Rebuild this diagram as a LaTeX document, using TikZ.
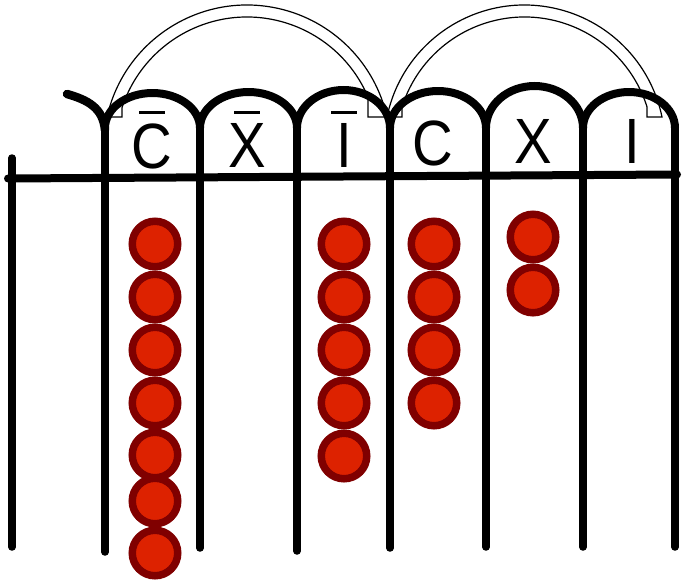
\documentclass[tikz,border=0pt]{standalone}
\usepackage{fontspec}
\usepackage{graphicx}
\setmainfont{Liberation Sans}
\definecolor{beadrim}{HTML}{800000}
\definecolor{beadfill}{HTML}{DD2200}
\newcommand\nar[1]{\scalebox{0.88}[1]{#1}}
\newcommand\ovl[1]{\setbox0=\hbox{\nar{#1}}\vbox{\offinterlineskip\hbox to\wd0{\hss\rule{26pt}{3pt}\hss}\kern9pt\box0}}
\tikzset{
  rail/.style={line width=7.5pt, line cap=round},
  archline/.style={line width=8pt},
  bar/.style={line width=8pt, line cap=round},
  band/.style={line width=1.2pt, line join=miter},
  bead/.style={circle, draw=beadrim, fill=beadfill, line width=7.5pt, minimum size=45.5pt, inner sep=0pt},
  letter/.style={anchor=base, inner sep=0pt, font=\fontsize{64}{64}\selectfont}
}
\begin{document}
\begin{tikzpicture}[x=1pt, y=1pt]
\useasboundingbox (0,0) rectangle (682,-584);
% double bands (thin)
\draw[band] (247,-148.5) ++(167.3:143.5) arc[start angle=167.3, end angle=12.7, radius=143.5]
  -- (368,-117) -- (368,-97) arc[start angle=23.06, end angle=161.9, radius=131.5]
  -- (122,-117) -- cycle;
\draw[band] (524.5,-145.4) ++(168.33:140.4) arc[start angle=168.33, end angle=11.67, radius=140.4]
  -- (647,-117) -- (647,-106.9) arc[start angle=17.45, end angle=162.55, radius=128.4]
  -- (402,-117) -- cycle;
% thick arches
\foreach \a/\b/\h in {105/200/35, 200/297/36, 297/390/38, 390/486/37, 486/583/42, 583/675/36}{
  \pgfmathsetmacro\rx{(\b-\a)/2}
  \draw[archline] (\a,-128) arc[start angle=180, end angle=0, x radius=\rx, y radius=\h];
}
% left hook
\coordinate (hookA) at (67,-94);
\coordinate (hookB) at (105,-130);
\draw[rail, line width=8.5pt] (hookA) .. controls (88,-100) and (103,-108) .. (hookB);
% posts
\foreach \i/\x/\t/\bt in {0/12/158/547, 1/105/128/552, 2/200/128/548, 3/297/128/551, 4/390/128/548, 5/486/128/547, 6/583/128/547, 7/675/128/547}{
  \coordinate (top\i) at (\x,-\t);
  \coordinate (bot\i) at (\x,-\bt);
  \draw[rail] (top\i) -- (bot\i);
}
% beam
\coordinate (beamL) at (8,-178.5);
\coordinate (beamR) at (677,-174.5);
\draw[bar] (beamL) -- (beamR);
% letters
\node[letter] (l1) at (152,-168) {\ovl{C}};
\node[letter] (l2) at (247,-167) {\ovl{X}};
\node[letter] (l3) at (344,-167) {\ovl{I}};
\node[letter] (l4) at (433,-165) {\nar{C}};
\node[letter] (l5) at (533,-163) {\nar{X}};
\node[letter] (l6) at (632,-163) {\nar{I}};
% beads
\foreach \y [count=\k] in {244,297,350,403,455,501,553}{\node[bead] (a\k) at (155,-\y) {};}
\foreach \y [count=\k] in {244,297,350,403,456}{\node[bead] (b\k) at (344,-\y) {};}
\foreach \y [count=\k] in {244,297,350,403}{\node[bead] (c\k) at (434,-\y) {};}
\foreach \y [count=\k] in {237,290}{\node[bead] (d\k) at (533,-\y) {};}
\end{tikzpicture}
\end{document}
